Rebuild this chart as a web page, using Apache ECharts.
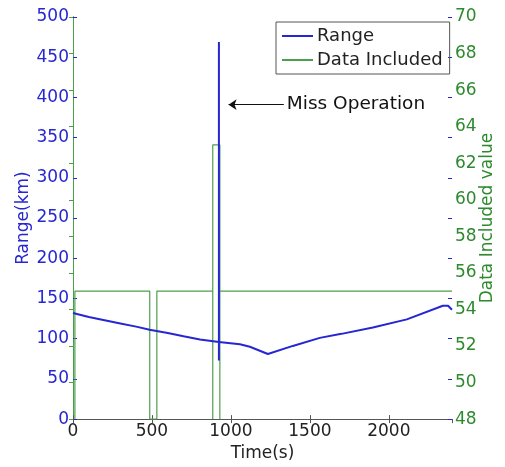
<!DOCTYPE html>
<html>
<head>
<meta charset="utf-8">
<script src="https://cdn.jsdelivr.net/npm/echarts@6/dist/echarts.min.js"></script>
<style>
  html, body { margin: 0; padding: 0; background: #fff; }
  #chart { width: 505px; height: 467px; }
</style>
</head>
<body>
<div id="chart"></div>
<script>
// Range (km) against time (s)
const rangeTime = [0, 100, 200, 300, 400, 485, 600, 700, 804, 924, 924, 924, 924, 1057, 1120, 1234, 1392, 1563, 1700, 1899, 2114, 2342, 2375, 2400];
const rangeKm = [132, 127, 123, 119, 115, 111, 107, 103, 99, 96, 73, 469, 96, 93, 90, 81, 91, 101, 106, 114, 124, 141, 141, 136];

// Data Included value against time (s)
const includedTime = [12, 12, 486, 486, 531, 531, 885, 885, 885, 930, 930, 930, 2400];
const includedValue = [48, 55, 55, 48, 48, 55, 55, 48, 63, 63, 48, 55, 55];

// annotation
const missArrow = [[1335, 391], [985, 391]];
const missText = "Miss Operation";

const blue = "#2626d2";
const green = "#4c9f4c";
const greenText = "#2e8a2e";
const font = "DejaVu Sans";

const myChart = echarts.init(document.getElementById("chart"));
myChart.setOption({
  animation: false,
  textStyle: { fontFamily: font },
  grid: { left: 73, right: 53, top: 17, bottom: 45 },
  legend: {
    orient: "vertical",
    left: 276,
    top: 22,
    padding: [5, 7, 5, 6],
    itemGap: 6,
    itemWidth: 31,
    itemHeight: 2,
    icon: "rect",
    borderColor: "#555",
    borderWidth: 1,
    textStyle: { fontFamily: font, fontSize: 18, color: "#222", padding: [0, 0, 0, -1] },
    data: ["Range", "Data Included"]
  },
  xAxis: [
    {
      type: "value",
      min: 0,
      max: 2400,
      interval: 500,
      name: "Time(s)",
      nameLocation: "middle",
      nameGap: 24,
      nameTextStyle: { fontSize: 17, color: "#222" },
      splitLine: { show: false },
      axisLine: { lineStyle: { color: "#555" } },
      axisTick: { inside: true, length: 4, lineStyle: { color: "#555" } },
      axisLabel: { fontSize: 17, color: "#222", margin: 4, showMaxLabel: false, formatter: v => String(v) }
    },
    {
      type: "value",
      position: "top",
      min: 0,
      max: 2400,
      interval: 500,
      splitLine: { show: false },
      axisLine: { lineStyle: { color: "#555" } },
      axisTick: { inside: true, length: 4, lineStyle: { color: "#555" } },
      axisLabel: { show: false }
    }
  ],
  yAxis: [
    {
      type: "value",
      position: "left",
      min: 0,
      max: 500,
      interval: 50,
      name: "Range(km)",
      nameLocation: "middle",
      nameGap: 41,
      nameRotate: 90,
      nameMoveOverlap: false,
      nameTextStyle: { fontSize: 17, color: blue },
      splitLine: { show: false },
      axisLine: { show: true, lineStyle: { color: blue } },
      axisTick: { show: true, inside: true, length: 4, lineStyle: { color: blue } },
      axisLabel: { fontSize: 17, color: blue, margin: 4 }
    },
    {
      type: "value",
      position: "right",
      min: 48,
      max: 70,
      interval: 2,
      name: "Data Included value",
      nameLocation: "middle",
      nameGap: 27,
      nameRotate: 90,
      nameMoveOverlap: false,
      nameTextStyle: { fontSize: 17, color: greenText },
      splitLine: { show: false },
      axisLine: { show: true, lineStyle: { color: green } },
      axisTick: { show: true, inside: true, length: 4, lineStyle: { color: green } },
      axisLabel: { fontSize: 17, color: greenText, margin: 3 }
    },
    {
      type: "value",
      position: "right",
      min: 0,
      max: 500,
      interval: 50,
      splitLine: { show: false },
      axisLine: { show: false },
      axisTick: { show: true, inside: true, length: 4, lineStyle: { color: blue } },
      axisLabel: { show: false }
    }
  ],
  series: [
    {
      name: "Range",
      type: "line",
      xAxisIndex: 0,
      yAxisIndex: 0,
      symbol: "none",
      z: 3,
      color: blue,
      lineStyle: { width: 2, color: blue },
      data: rangeTime.map((t, i) => [t, rangeKm[i]]),
      markLine: {
        silent: true,
        symbol: ["none", "arrow"],
        symbolSize: [8, 8],
        lineStyle: { color: "#111", width: 1, type: "solid" },
        label: { show: false },
        data: [[{ coord: missArrow[0] }, { coord: missArrow[1] }]]
      },
      markPoint: {
        silent: true,
        symbol: "circle",
        symbolSize: 0,
        label: {
          show: true,
          position: "right",
          distance: 3,
          fontSize: 18.5,
          color: "#111",
          formatter: missText
        },
        data: [{ coord: missArrow[0] }]
      }
    },
    {
      name: "Data Included",
      type: "line",
      xAxisIndex: 0,
      yAxisIndex: 1,
      symbol: "none",
      z: 2,
      color: green,
      lineStyle: { width: 1.2, color: green },
      data: includedTime.map((t, i) => [t, includedValue[i]])
    }
  ]
});
</script>
</body>
</html>
